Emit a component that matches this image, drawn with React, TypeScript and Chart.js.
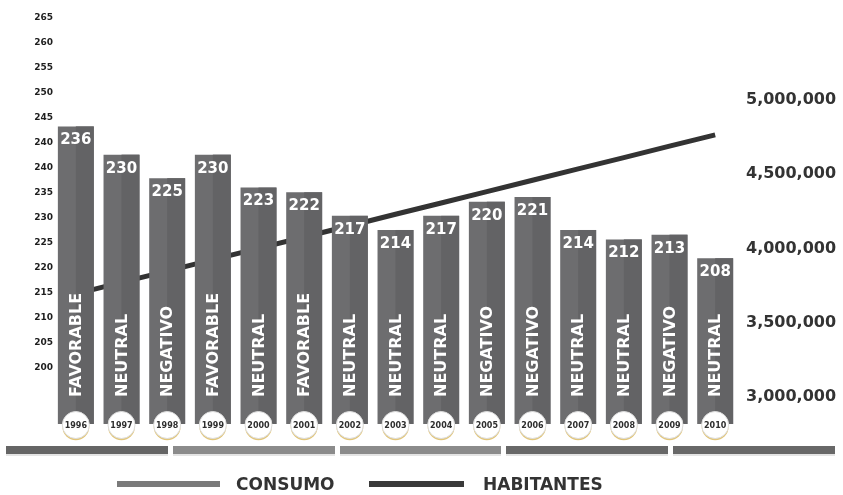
import React, { useEffect, useRef } from 'react';
import { Chart, registerables } from 'chart.js';

Chart.register(...registerables);

const YEARS = ['1996', '1997', '1998', '1999', '2000', '2001', '2002', '2003', '2004', '2005', '2006', '2007', '2008', '2009', '2010'];
const CONSUMO = [236, 230, 225, 230, 223, 222, 217, 214, 217, 220, 221, 214, 212, 213, 208];
const OUTLOOK = ['FAVORABLE', 'NEUTRAL', 'NEGATIVO', 'FAVORABLE', 'NEUTRAL', 'FAVORABLE', 'NEUTRAL', 'NEUTRAL', 'NEUTRAL', 'NEGATIVO', 'NEGATIVO', 'NEUTRAL', 'NEUTRAL', 'NEGATIVO', 'NEUTRAL'];
const HABITANTES = [3695000, 3772000, 3848000, 3925000, 4001000, 4078000, 4154000, 4231000, 4307000, 4384000, 4460000, 4537000, 4613000, 4690000, 4766000];
const LEFT_TICKS = ['265', '260', '255', '250', '245', '240', '240', '235', '230', '225', '220', '215', '210', '205', '200'];
const RIGHT_TICKS = [3000000, 3500000, 4000000, 4500000, 5000000];
const LEGEND = ['CONSUMO', 'HABITANTES'];

const FONT = '"DejaVu Sans", sans-serif';

const decor = {
  id: 'decor',
  beforeDraw(chart: any) {
    const ctx = chart.ctx;
    ctx.save();
    ctx.fillStyle = '#ffffff';
    ctx.fillRect(0, 0, chart.width, chart.height);
    ctx.restore();
  },
  afterDatasetsDraw(chart: any) {
    const ctx = chart.ctx;
    const bottom = chart.chartArea.bottom;
    const meta = chart.getDatasetMeta(0);
    ctx.save();
    meta.data.forEach((bar: any, i: number) => {
      const { x, y, width } = bar.getProps(['x', 'y', 'width'], true);
      // darker right half
      ctx.fillStyle = '#636365';
      ctx.fillRect(x, y, width / 2, bottom - y);
      // value label
      ctx.fillStyle = '#ffffff';
      ctx.font = 'bold 15px ' + FONT;
      ctx.textAlign = 'center';
      ctx.textBaseline = 'middle';
      ctx.fillText(String(CONSUMO[i]), x, y + 14);
      // rotated outlook label
      ctx.save();
      ctx.translate(x, bottom - 27);
      ctx.rotate(-Math.PI / 2);
      ctx.textAlign = 'left';
      ctx.textBaseline = 'middle';
      ctx.font = 'bold 16px ' + FONT;
      ctx.fillStyle = '#ffffff';
      ctx.fillText(OUTLOOK[i], 0, 1);
      ctx.restore();
      // year circle
      const cy = bottom + 1;
      ctx.beginPath();
      ctx.arc(x, cy + 1.8, 13.5, 0, Math.PI * 2);
      ctx.fillStyle = '#e2c67a';
      ctx.fill();
      ctx.beginPath();
      ctx.arc(x, cy, 13.5, 0, Math.PI * 2);
      ctx.fillStyle = '#ffffff';
      ctx.fill();
      ctx.lineWidth = 1;
      ctx.strokeStyle = '#dcdcdc';
      ctx.stroke();
      ctx.fillStyle = '#2e2e2e';
      ctx.font = 'bold 8px ' + FONT;
      ctx.textAlign = 'center';
      ctx.textBaseline = 'middle';
      ctx.fillText(YEARS[i], x, cy + 0.5);
    });
    ctx.restore();
  },
  afterDraw(chart: any) {
    const ctx = chart.ctx;
    ctx.save();
    // timeline strip
    const segs = [
      [6, 168, '#656565'],
      [173, 335, '#8b8b8b'],
      [340, 501, '#8b8b8b'],
      [506, 668, '#686868'],
      [673, 835, '#686868'],
    ];
    segs.forEach(([a, b, c]: any) => {
      ctx.fillStyle = '#e4e4e4';
      ctx.fillRect(a, 454, b - a, 2);
      ctx.fillStyle = c;
      ctx.fillRect(a, 446, b - a, 8);
    });
    // legend
    ctx.fillStyle = '#7a7a7a';
    ctx.fillRect(117, 481, 103, 6);
    ctx.fillStyle = '#3a3a3a';
    ctx.fillRect(369, 481, 95, 6);
    ctx.fillStyle = '#333333';
    ctx.font = 'bold 17px ' + FONT;
    ctx.textAlign = 'left';
    ctx.textBaseline = 'alphabetic';
    ctx.fillText(LEGEND[0], 236, 490);
    ctx.fillText(LEGEND[1], 483, 490);
    ctx.restore();
  },
};

export default function App() {
  const ref = useRef<HTMLCanvasElement>(null);
  useEffect(() => {
    document.body.style.margin = '0';
    const canvas = ref.current!;
    const chart = new Chart(canvas, {
      type: 'bar',
      data: {
        labels: YEARS,
        datasets: [
          {
            type: 'bar',
            label: LEGEND[0],
            data: CONSUMO,
            yAxisID: 'y',
            backgroundColor: '#6d6d6f',
            borderWidth: 0,
            barPercentage: 0.787,
            categoryPercentage: 1,
            order: 1,
          },
          {
            type: 'line',
            label: LEGEND[1],
            data: HABITANTES,
            yAxisID: 'yr',
            borderColor: '#333333',
            borderWidth: 5,
            pointRadius: 0,
            tension: 0,
            fill: false,
            order: 2,
          } as any,
        ],
      },
      options: {
        responsive: false,
        animation: false,
        devicePixelRatio: 1,
        layout: { padding: { top: 13.3, bottom: 71, left: 0, right: 0 } },
        plugins: { legend: { display: false }, tooltip: { enabled: false } },
        scales: {
          x: { display: false, offset: true },
          y: { display: false, min: 172.8, max: 259.1 },
          yl: {
            position: 'left',
            reverse: true,
            min: 0,
            max: 16.27,
            grid: { display: false, drawTicks: false },
            border: { display: false },
            afterBuildTicks: (s: any) => {
              s.ticks = LEFT_TICKS.map((_, i) => ({ value: i }));
            },
            afterFit: (s: any) => {
              s.width = 53;
            },
            ticks: {
              autoSkip: false,
              padding: 0,
              color: '#1e1e1e',
              font: { family: FONT, size: 9, weight: 'bold' },
              callback: (v: any) => LEFT_TICKS[v] ?? '',
            },
          },
          yr: {
            position: 'right',
            min: 2818000,
            max: 5556000,
            grid: { display: false, drawTicks: false },
            border: { display: false },
            afterBuildTicks: (s: any) => {
              s.ticks = RIGHT_TICKS.map((v) => ({ value: v }));
            },
            afterFit: (s: any) => {
              s.width = 105;
            },
            ticks: {
              autoSkip: false,
              padding: 8,
              color: '#333333',
              font: { family: FONT, size: 16, weight: 'bold' },
              callback: (v: any) => Number(v).toLocaleString('en-US'),
            },
          },
        },
      } as any,
      plugins: [decor],
    });
    return () => chart.destroy();
  }, []);
  return (
    <div style={{ width: 843, height: 495, position: 'relative' }}>
      <canvas ref={ref} width={843} height={495} style={{ display: 'block' }} />
    </div>
  );
}
